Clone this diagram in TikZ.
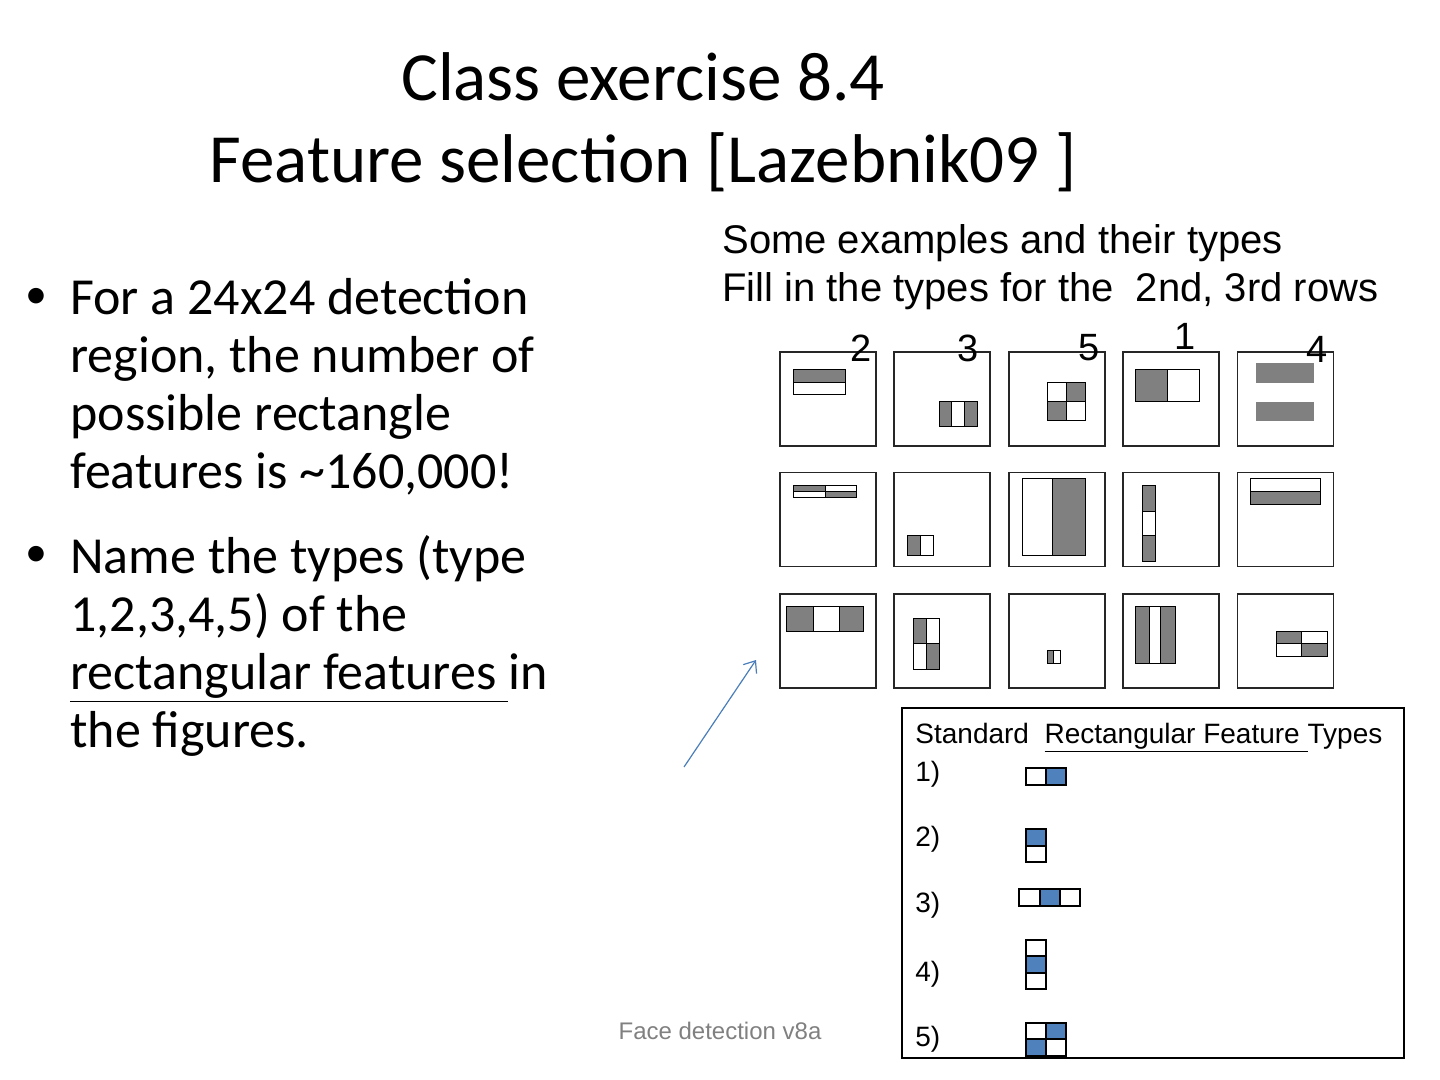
\documentclass[tikz,border=0pt]{standalone}
\usepackage{fontspec}
\setmainfont{Carlito}
\newfontfamily\arialfont{Liberation Sans}
\usepackage{tikz}
\usetikzlibrary{arrows.meta, positioning}
\definecolor{cellgray}{HTML}{808080}
\definecolor{typeblue}{HTML}{4F81BD}
\definecolor{arrowblue}{HTML}{4A7EBB}

\begin{document}
\begin{tikzpicture}[
    x=0.5pt, y=-0.5pt,
    frame/.style={draw=black!85, line width=0.8pt, minimum width=48pt,
                  minimum height=47pt, inner sep=0pt},
    gcell/.style={fill=cellgray, draw=black, line width=0.5pt},
    wcell/.style={fill=white, draw=black, line width=0.5pt},
    bcell/.style={fill=typeblue, draw=black, line width=0.8pt},
    ocell/.style={fill=white, draw=black, line width=0.8pt},
    num/.style={font=\arialfont\fontsize{19}{22}\selectfont, inner sep=0pt},
    lbl/.style={font=\arialfont\fontsize{14}{16}\selectfont, inner sep=0pt, anchor=base west},
    arr/.style={-{Straight Barb[length=5pt, width=8pt]}, draw=arrowblue, line width=0.6pt},
]
\useasboundingbox (0,0) rectangle (1440,1080);

\node[font=\fontsize{34.5}{41}\selectfont, align=center] (title) at (643,122)
    {Class exercise 8.4\\Feature selection [Lazebnik09 ]};

\node[font=\fontsize{22}{29}\selectfont] (dot1) at (36,298) {\textbullet};
\node[font=\fontsize{22}{29}\selectfont] (dot2) at (36,556) {\textbullet};
\node[anchor=north west, align=left, inner sep=0pt, font=\fontsize{26}{29}\selectfont] (pt1) at (70,278)
    {For a 24x24 detection\\region, the number of\\possible rectangle\\features is \textasciitilde160,000!};
\node[anchor=north west, align=left, inner sep=0pt, font=\fontsize{26}{29}\selectfont] (pt2) at (70,535)
    {Name the types (type\\1,2,3,4,5) of the\\\underline{rectangular features\ }in\\the figures.};

\node[anchor=north west, align=left, inner sep=0pt, font=\arialfont\fontsize{20}{24}\selectfont] (hint) at (722,224)
    {Some examples and their types\\Fill in the types for the \ 2nd, 3rd rows};

% example grid
\foreach \r/\y in {1/399,2/519.5,3/641}
  \foreach \c/\x in {1/828,2/942,3/1057,4/1171,5/1285.5}
    \node[frame] (f\r\c) at (\x,\y) {};

\node[num] (n2) at (861,348) {2};
\node[num] (n3) at (968,348) {3};
\node[num] (n5) at (1089,348) {5};
\node[num] (n1) at (1185,336) {1};
\node[num] (n4) at (1317,349) {4};

% row 1
\draw[gcell] (793,370) rectangle (845,383);
\draw[wcell] (793,383) rectangle (845,395);
\draw[gcell] (939,402) rectangle (951,427);
\draw[wcell] (951,402) rectangle (964,427);
\draw[gcell] (964,402) rectangle (977,427);
\draw[wcell] (1047,383) rectangle (1066,402);
\draw[gcell] (1066,383) rectangle (1085,402);
\draw[gcell] (1047,402) rectangle (1066,421);
\draw[wcell] (1066,402) rectangle (1085,421);
\draw[gcell] (1135,370) rectangle (1167,402);
\draw[wcell] (1167,370) rectangle (1199,402);
\fill[cellgray] (1256,363) rectangle (1314,421);
\fill[white] (1256,383) rectangle (1314,402);

% row 2
\draw[gcell] (793,485) rectangle (825,491);
\draw[wcell] (793,491) rectangle (825,497);
\draw[wcell] (825,485) rectangle (856,491);
\draw[gcell] (825,491) rectangle (856,497);
\draw[gcell] (907,535) rectangle (920,555);
\draw[wcell] (920,535) rectangle (933,555);
\draw[wcell] (1022,478) rectangle (1052,555);
\draw[gcell] (1052,478) rectangle (1085,555);
\draw[gcell] (1142,485) rectangle (1155,511);
\draw[wcell] (1142,511) rectangle (1155,535);
\draw[gcell] (1142,535) rectangle (1155,561);
\draw[wcell] (1250,478) rectangle (1320,491);
\draw[gcell] (1250,491) rectangle (1320,504);

% row 3
\draw[gcell] (786,606) rectangle (813,631);
\draw[wcell] (813,606) rectangle (839,631);
\draw[gcell] (839,606) rectangle (863,631);
\draw[gcell] (913,618) rectangle (926,643);
\draw[wcell] (926,618) rectangle (939,643);
\draw[wcell] (913,643) rectangle (926,669);
\draw[gcell] (926,643) rectangle (939,669);
\draw[gcell] (1047,650) rectangle (1053,663);
\draw[wcell] (1053,650) rectangle (1060,663);
\draw[gcell] (1135,606) rectangle (1149,663);
\draw[wcell] (1149,606) rectangle (1160,663);
\draw[gcell] (1160,606) rectangle (1175,663);
\draw[gcell] (1276,631) rectangle (1301,643);
\draw[wcell] (1301,631) rectangle (1327,643);
\draw[wcell] (1276,643) rectangle (1301,656);
\draw[gcell] (1301,643) rectangle (1327,656);

% legend
\node[draw, line width=1.2pt, minimum width=251pt, minimum height=175pt, inner sep=0pt] (legend) at (1153,883) {};
\node[lbl] (lhead) at (915,743) {Standard \ \underline{Rectangular Feature }Types};
\node[lbl] (t1) at (915,781) {1)};
\node[lbl] (t2) at (915,846) {2)};
\node[lbl] (t3) at (915,912) {3)};
\node[lbl] (t4) at (915,981) {4)};
\node[lbl] (t5) at (915,1046) {5)};

\draw[ocell] (1026,768) rectangle (1046,785);
\draw[bcell] (1046,768) rectangle (1066,785);
\draw[bcell] (1026,829) rectangle (1046,846);
\draw[ocell] (1026,846) rectangle (1046,862);
\draw[ocell] (1019,889) rectangle (1040,906);
\draw[bcell] (1040,889) rectangle (1060,906);
\draw[ocell] (1060,889) rectangle (1080,906);
\draw[ocell] (1026,940) rectangle (1046,956);
\draw[bcell] (1026,956) rectangle (1046,973);
\draw[ocell] (1026,973) rectangle (1046,989);
\draw[ocell] (1026,1023) rectangle (1046,1039);
\draw[bcell] (1046,1023) rectangle (1066,1039);
\draw[bcell] (1026,1039) rectangle (1046,1056);
\draw[ocell] (1046,1039) rectangle (1066,1056);

\coordinate (atail) at (684,767);
\coordinate (ahead) at (756,660);
\draw[arr] (atail) -- (ahead);

\node[font=\arialfont\fontsize{12}{14}\selectfont, text=gray] (foot) at (720,1031) {Face detection v8a};
\end{tikzpicture}
\end{document}
